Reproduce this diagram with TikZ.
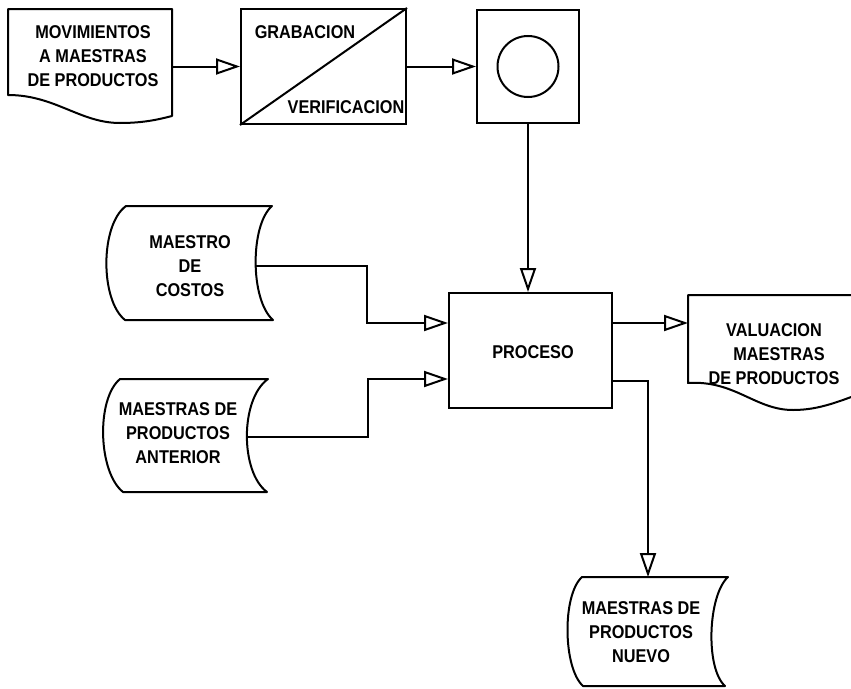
\documentclass[tikz,border=0pt]{standalone}
\usepackage{fontspec}
\setmainfont[FakeStretch=0.88]{Liberation Sans}
\usepackage{tikz}
\usetikzlibrary{arrows.meta, positioning}
\tikzset{
  box/.style={rectangle, draw, line width=2pt, inner sep=0pt},
  txt/.style={align=center, inner sep=0pt,
    font=\bfseries\fontsize{18.5}{24}\selectfont},
  outline/.style={line width=2pt, line join=round},
  flow/.style={-{Triangle[open, length=24pt, width=16pt]}, line width=2pt}
}

\begin{document}
\begin{tikzpicture}[x=1pt, y=-1pt]
  \useasboundingbox (0,0) rectangle (851,688);

  % Movimientos (document)
  \draw[outline] (8,9) -- (172,9) -- (172,116)
    .. controls (160,119) and (145,123) .. (120,123)
    .. controls (80,123) and (55,95) .. (8,95) -- cycle;
  \node[txt] (mov) at (93,56) {MOVIMIENTOS\\A MAESTRAS\\DE PRODUCTOS};
  \coordinate (mov-out) at (172,66.5);

  % Grabacion / verificacion
  \node[box, minimum width=165, minimum height=115] (grab) at (323.5,66.5) {};
  \draw[outline] (grab.south west) -- (grab.north east);
  \node[txt] (grab-txt) at (305,32) {GRABACION};
  \node[txt] (verif-txt) at (346,107) {VERIFICACION};

  % Disco
  \node[box, minimum width=102, minimum height=113] (disk) at (528,66.5) {};
  \node[circle, draw, line width=2pt, minimum size=61] (disc) at (disk) {};

  % Proceso
  \node[box, minimum width=163, minimum height=115] (proc) at (530.5,350.5) {};
  \node[txt] (proc-txt) at (533,352) {PROCESO};

  % Maestro de costos (tape)
  \draw[outline] (126,206) -- (272,206)
    .. controls (250,225) and (250,300) .. (273,320) -- (125,320)
    .. controls (100,300) and (100,225) .. cycle;
  \node[txt] (costos) at (190,266) {MAESTRO\\DE\\COSTOS};
  \coordinate (costos-out) at (255.5,266);

  % Maestras anterior (tape)
  \draw[outline] (120,379) -- (268,379)
    .. controls (240,399) and (240,472) .. (267,492) -- (123,492)
    .. controls (98,472) and (96,399) .. cycle;
  \node[txt] (ant) at (178,433) {MAESTRAS DE\\PRODUCTOS\\ANTERIOR};
  \coordinate (ant-out) at (247,437);

  % Valuacion (document, runs off the page)
  \draw[outline] (870,295) -- (688,295) -- (688,383)
    .. controls (735,380) and (755,410) .. (793,410)
    .. controls (820,410) and (840,401) .. (870,390);
  \node[txt] (val) at (774,354) {VALUACION\\\hspace*{10pt}MAESTRAS\\DE PRODUCTOS};
  \coordinate (val-in) at (688,323);

  % Maestras nuevo (tape)
  \draw[outline] (582,577) -- (728,577)
    .. controls (708,595) and (705,668) .. (725,686) -- (583,686)
    .. controls (563,668) and (562,595) .. cycle;
  \node[txt] (nuevo) at (641,632) {MAESTRAS DE\\PRODUCTOS\\NUEVO};
  \coordinate (nuevo-in) at (648,577);

  % Flow lines
  \coordinate (in1) at ([yshift=27.5pt]proc.west);
  \coordinate (in2) at ([yshift=-28.5pt]proc.west);
  \coordinate (out1) at ([yshift=27.5pt]proc.east);
  \coordinate (out2) at ([yshift=-30.5pt]proc.east);
  \coordinate (bend1) at (367,0 |- in1);
  \coordinate (bend2) at (368,0 |- in2);

  \draw[flow] (mov-out) -- (mov-out -| grab.west);
  \draw[flow] (grab.east) -- (disk.west);
  \draw[flow] (disk.south) -- (disk.south |- proc.north);
  \draw[flow] (costos-out) -| (bend1) -- (in1);
  \draw[flow] (ant-out) -| (bend2) -- (in2);
  \draw[flow] (out1) -- (out1 -| val-in);
  \draw[flow] (out2) -| (nuevo-in);
\end{tikzpicture}
\end{document}
